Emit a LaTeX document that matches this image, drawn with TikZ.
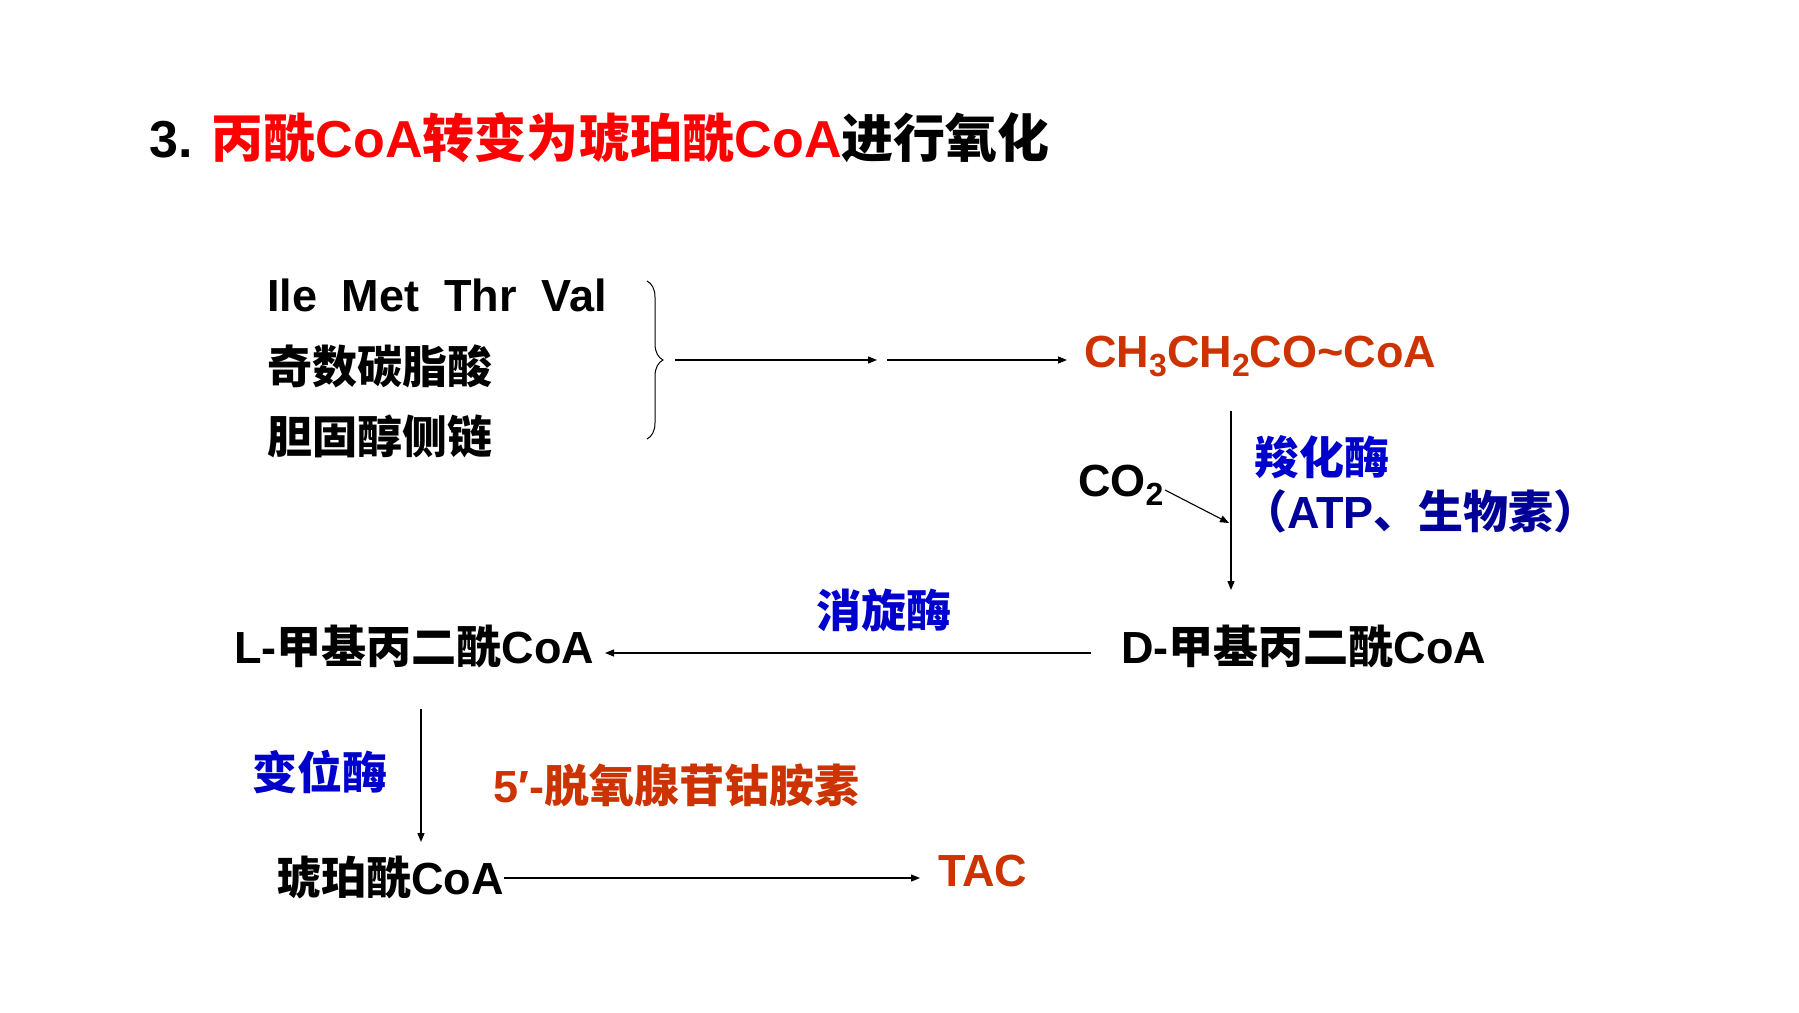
\documentclass[tikz,border=0pt]{standalone}
\usepackage{fontspec}
\setmainfont{Liberation Sans}
\newfontfamily\cjkf{Noto Sans CJK SC}
\usetikzlibrary{arrows.meta,decorations.pathreplacing}
\definecolor{titred}{RGB}{255,0,0}
\definecolor{orng}{RGB}{204,51,0}
\definecolor{enzblue}{RGB}{0,0,204}
\definecolor{navyb}{RGB}{0,0,153}
\newcommand\zh[1]{{\cjkf #1}}
\newcommand\sbs[1]{\raisebox{-0.22em}{\fontsize{32}{32}\selectfont #1}}
\begin{document}
\begin{tikzpicture}[x=1pt,y=-1pt,
  lbl/.style={anchor=base west, inner sep=0pt, font=\fontsize{45}{54}\selectfont\bfseries},
  arr/.style={-{Triangle[length=9pt,width=7pt]}, line width=1.3pt},
]
\useasboundingbox (0,0) rectangle (1799,1012);
\fill[white] (0,0) rectangle (1799,1012);

% title
\node[lbl, font=\fontsize{52}{60}\selectfont\bfseries] (title) at (149,157)
  {3. \textcolor{titred}{\zh{丙酰}CoA\zh{转变为琥珀酰}CoA}\zh{进行氧化}};

% sources
\node[lbl] (aa) at (267,311) {Ile\hspace{0.55em}Met\hspace{0.55em}Thr\hspace{0.55em}Val};
\node[lbl] (odd) at (267,383) {\zh{奇数碳脂酸}};
\node[lbl] (chol) at (267,453) {\zh{胆固醇侧链}};

\coordinate (brtop) at (647,281);
\coordinate (brbot) at (647,439);
\draw[line width=1pt, decorate, decoration={brace, amplitude=16pt, aspect=0.5}] (brtop) -- (brbot);

% propionyl CoA
\node[lbl, text=orng] (prop) at (1084,367) {CH\sbs{3}CH\sbs{2}CO\textasciitilde CoA};

\coordinate (a1s) at (675,360);
\coordinate (a1e) at (877,360);
\coordinate (a2s) at (887,360);
\coordinate (a2e) at (1067,360);
\draw[arr] (a1s) -- (a1e);
\draw[arr] (a2s) -- (a2e);

% carboxylase step
\coordinate (v1s) at (1231,411);
\coordinate (v1e) at (1231,590);
\coordinate (v1m) at (1229,523);
\draw[arr] (v1s) -- (v1e);
\node[lbl] (co2) at (1078,496) {CO\sbs{2}};
\coordinate (co2s) at (1165,490);
\draw[-{Triangle[length=9pt,width=7pt]}, line width=1.1pt] (co2s) -- (v1m);
\node[lbl, text=enzblue] (carb) at (1254,474) {\zh{羧化酶}};
\node[lbl, text=navyb] (atp) at (1242,528) {\zh{（}ATP\zh{、生物素）}};

% methylmalonyl
\node[lbl] (dmm) at (1121,663) {D-\zh{甲基丙二酰}CoA};
\node[lbl] (lmm) at (234,663) {L-\zh{甲基丙二酰}CoA};
\node[lbl, text=enzblue] (race) at (816,627) {\zh{消旋酶}};
\coordinate (h1s) at (1091,653);
\coordinate (h1e) at (605,653);
\draw[arr] (h1s) -- (h1e);

% mutase
\coordinate (v2s) at (421,709);
\coordinate (v2e) at (421,842);
\draw[arr] (v2s) -- (v2e);
\node[lbl, text=enzblue] (mut) at (252,789) {\zh{变位酶}};
\node[lbl, text=orng] (b12) at (493,802) {5′-\zh{脱氧腺苷钴胺素}};

% succinyl CoA
\node[lbl] (succ) at (276,894) {\zh{琥珀酰}CoA};
\node[lbl, text=orng] (tac) at (938,886) {TAC};
\coordinate (h2e) at (920,878);
\draw[arr] (succ.east |- h2e) -- (h2e);
\end{tikzpicture}
\end{document}
